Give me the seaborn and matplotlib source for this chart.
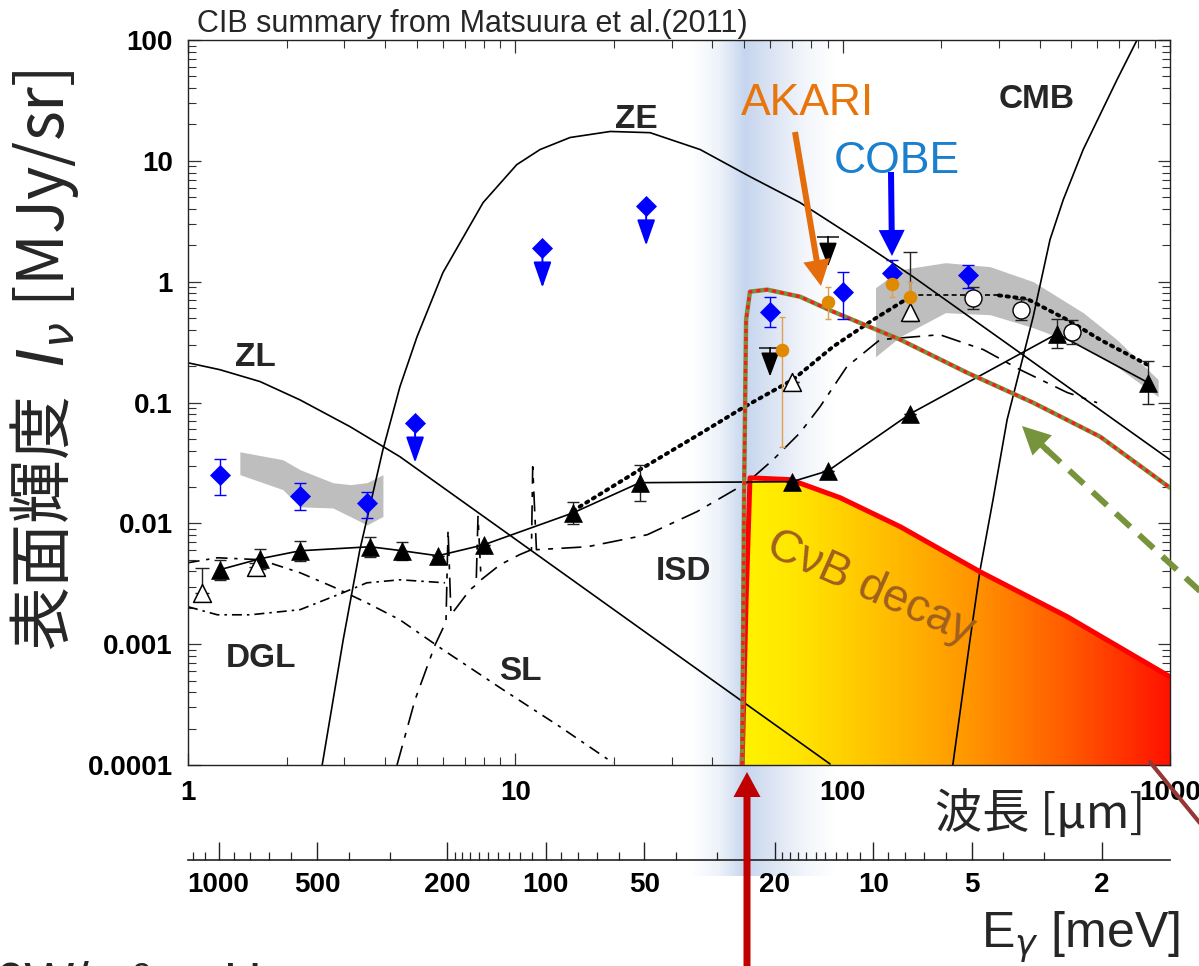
"""CIB summary (Matsuura et al. 2011) redrawn with seaborn / matplotlib."""
import numpy as np
import matplotlib
matplotlib.use("Agg")
import matplotlib.pyplot as plt
import seaborn as sns
from matplotlib.colors import LinearSegmentedColormap
from matplotlib.lines import Line2D
from matplotlib.patches import FancyArrow, Polygon
from matplotlib.ticker import FixedLocator, LogLocator, NullFormatter

W, H = 1199, 966

# ---------------- data: wavelength [um], intensity [MJy/sr] ----------------
zl_lam = [1.0, 1.25, 1.66, 2.2, 3.13, 4.44, 10.0, 30.0, 91.5]
zl_I = [0.213, 0.187, 0.149, 0.105, 0.063, 0.0356, 0.0074, 0.00088, 0.000102]

ze_lam = [2.57, 2.98, 3.35, 3.94, 4.44, 5.01, 6.01, 7.97, 10.1, 11.9, 14.7, 19.5,
          25.8, 36.7, 52.1, 74.1, 111, 164, 348, 1000]
ze_I = [1.0e-4, 1.09e-3, 6.05e-3, 0.0407, 0.135, 0.351, 1.19, 4.51, 9.3, 12.4, 15.6,
        17.5, 17.1, 12.4, 7.4, 4.51, 2.23, 1.10, 0.258, 0.0336]

cmb_lam = [217, 245, 263, 288, 318, 382, 430, 472, 543, 689, 793]
cmb_I = [1e-4, 1.09e-3, 4.13e-3, 0.0157, 0.0721, 0.513, 2.23, 4.77, 12.4, 47.0, 100]

sl_lam = [1.0, 1.23, 1.66, 2.2, 2.77, 3.52, 4.44, 6.01, 8.98, 13.7, 19.9]
sl_I = [4.72e-3, 5.19e-3, 5.0e-3, 3.9e-3, 2.99e-3, 2.2e-3, 1.59e-3, 9.0e-4, 4.36e-4,
        2.07e-4, 1.04e-4]

dgl_lam = [1.0, 1.23, 1.55, 2.2, 2.98, 3.52, 4.44, 6.1]
dgl_I = [2.04e-3, 1.75e-3, 1.75e-3, 1.93e-3, 2.67e-3, 3.22e-3, 3.41e-3, 3.22e-3]

isd_lam = [4.35, 4.94, 5.69, 6.14, 6.23, 6.36, 7.27, 7.59, 7.69, 7.86, 8.98, 10.3, 11.2,
           11.3, 11.6, 16.6, 25.3, 35.9, 51.0, 61.3, 74.1, 85.3, 103, 130, 198, 269,
           348, 485, 599]
isd_I = [1e-4, 3.47e-4, 9.9e-4, 1.53e-3, 8.85e-3, 1.75e-3, 2.82e-3, 3.1e-3, 0.0114,
         3.41e-3, 4.54e-3, 5.5e-3, 6.05e-3, 0.0294, 6.05e-3, 6.4e-3, 8.05e-3, 0.0125,
         0.0217, 0.0336, 0.0562, 0.0923, 0.198, 0.331, 0.364, 0.274, 0.187, 0.121, 0.0996]

tri_lam = [1.25, 1.66, 2.2, 3.6, 4.51, 5.8, 8.02, 15.0, 24.0, 70.0, 90.2, 161, 452, 857]
tri_I = [4.13e-3, 5.09e-3, 5.93e-3, 6.4e-3, 5.93e-3, 5.39e-3, 6.65e-3, 0.0122, 0.0217,
         0.0221, 0.0272, 0.0808, 0.371, 0.146]
tri_err = [0.083, 0.083, 0.083, 0.083, 0.075, 0, 0, 0.09, 0.15, 0, 0, 0, 0.12, 0.18]

otri_lam = [1.10, 1.61, 70.0, 161]
otri_I = [2.67e-3, 4.37e-3, 0.149, 0.565]
otri_up = [0.2, 0.03, 0, 0.49]
otri_lo = [0, 0, 0, 0.08]

ocirc_lam = [250, 351, 502]
ocirc_I = [0.737, 0.587, 0.386]
ocirc_err = [0.09, 0.09, 0.1]

dia_lam = [1.25, 2.2, 3.52, 60.0, 100, 141, 242]
dia_I = [0.0253, 0.0169, 0.0148, 0.565, 0.826, 1.19, 1.14]
dia_up = [0.13, 0.11, 0.09, 0.12, 0.16, 0.1, 0.08]
dia_lo = [0.17, 0.12, 0.13, 0.13, 0.23, 0.1, 0.11]
dia_ul_lam = [4.94, 12.1, 25.1]
dia_ul_I = [0.068, 1.91, 4.26]

akari_lam = [65.3, 90.2, 141, 161]
akari_I = [0.274, 0.683, 0.963, 0.751]
akari_up = [0.27, 0.12, 0.09, 0.12]
akari_lo = [0.81, 0.14, 0.11, 0.18]

ul_lam = [60.0, 90.2]
ul_top = [0.284, 2.36]
ul_tip = [0.164, 1.33]

nir_lam = [1.44, 1.95, 2.2, 2.77, 3.13, 3.52, 3.94]
nir_hi = [0.0391, 0.0336, 0.0278, 0.0217, 0.0209, 0.0217, 0.0253]
nir_lo = [0.0253, 0.0190, 0.0137, 0.0134, 0.0114, 0.0097, 0.0114]

fir_lam = [126, 150, 206, 282, 382, 543, 689, 920]
fir_hi = [0.892, 1.257, 1.436, 1.331, 1.0, 0.554, 0.331, 0.1545]
fir_lo = [0.239, 0.351, 0.554, 0.533, 0.416, 0.290, 0.198, 0.1117]

dot_lam = [15.0, 24.0, 36.7, 49.6, 70.5, 93.5, 124, 161]
dot_I = [0.0127, 0.0278, 0.0552, 0.0906, 0.1545, 0.29, 0.4845, 0.751]
flat_lam = [161, 300]
flat_I = [0.77, 0.77]
desc_lam = [300, 366, 485, 612, 851]
desc_I = [0.77, 0.72, 0.4845, 0.331, 0.206]

cvb_lam = [49.3, 50.7, 52.1, 69.1, 98.2, 150, 263, 485, 1000]
cvb_I = [1e-4, 2.33e-3, 0.0238, 0.023, 0.0163, 9.37e-3, 3.97e-3, 1.69e-3, 5.37e-4]

nu_lam = [49.3, 49.96, 50.7, 52.1, 58.8, 74.1, 93.5, 150, 240, 382, 612, 1000]
nu_I = [1e-4, 0.0157, 0.4845, 0.826, 0.859, 0.751, 0.565, 0.331, 0.1765, 0.0996,
        0.0521, 0.0197]

x_ticks = [1, 10, 100, 1000]
x_labels = ["1", "10", "100", "1000"]
y_ticks = [1e-4, 1e-3, 1e-2, 0.1, 1, 10, 100]
y_labels = ["0.0001", "0.001", "0.01", "0.1", "1", "10", "100"]
e_ticks = [1000, 500, 200, 100, 50, 20, 10, 5, 2]
e_labels = ["1000", "500", "200", "100", "50", "20", "10", "5", "2"]
e_minor = ([1100, 1200, 900, 800, 700, 600, 400, 300]
           + list(range(110, 200, 10)) + [90, 80, 70, 60, 40, 30]
           + list(range(11, 20)) + [9, 8, 7, 6, 4, 3])

# ---------------- style ----------------
sns.set_theme(style="ticks")
plt.rcParams["font.family"] = ["Liberation Sans", "Noto Sans CJK JP", "DejaVu Sans"]
plt.rcParams["mathtext.fontset"] = "dejavusans"
CJK = ["Noto Sans CJK JP", "DejaVu Sans"]

fig = plt.figure(figsize=(W / 100, H / 100), dpi=100)
fig.patch.set_facecolor("white")


def fx(x):
    return x / W


def fy(y):
    return 1 - y / H


# light-blue vertical band (behind everything)
band = fig.add_axes([fx(690), fy(876), (835 - 690) / W, (876 - 41) / H], zorder=0)
band_cmap = LinearSegmentedColormap.from_list(
    "band", [(0, "#ffffff"), (0.2, "#eef3fa"), (0.38, "#c6d5ee"), (0.55, "#dae3f3"),
             (0.8, "#f3f6fb"), (1, "#ffffff")])
band.imshow(np.linspace(0, 1, 256)[None, :], aspect="auto", cmap=band_cmap,
            extent=[0, 1, 0, 1])
band.axis("off")

ax = fig.add_axes([fx(188), fy(765), (1170 - 188) / W, (765 - 40) / H], zorder=1)
ax.set_facecolor("none")
ax.set_xscale("log")
ax.set_yscale("log")


def curve(lam, I, **kw):
    kw.setdefault("color", "black")
    kw.setdefault("lw", 1.2)
    sns.lineplot(x=lam, y=I, sort=False, estimator=None, ax=ax, **kw)


def dex_err(I, lo, hi):
    I = np.asarray(I)
    return [I - I * 10 ** -np.asarray(lo), I * 10 ** np.asarray(hi) - I]


# shaded bands
ax.fill_between(nir_lam, nir_lo, nir_hi, color="#bebebe", lw=0, zorder=1)
ax.fill_between(fir_lam, fir_lo, fir_hi, color="#bebebe", lw=0, zorder=1)

# CvB decay gradient region
cvb_cmap = LinearSegmentedColormap.from_list(
    "cvb", [(0, "#fff200"), (0.13, "#ffe400"), (0.32, "#ffc000"), (0.53, "#ff9600"),
            (0.75, "#ff5e00"), (1, "#ff1200")])
gx = np.logspace(np.log10(cvb_lam[0]), 3, 300)
mesh = ax.pcolormesh(gx, [1e-4, 0.03], np.linspace(0, 1, 299)[None, :], cmap=cvb_cmap,
                     shading="flat", zorder=1.5)
clip = Polygon(np.column_stack([cvb_lam + [1000], cvb_I + [1e-4]]), closed=True,
               transform=ax.transData)
mesh.set_clip_path(clip)
curve(cvb_lam, cvb_I, color="#ff0000", lw=3.6, zorder=2.2)

# model curves
curve(zl_lam, zl_I, zorder=2)
curve(ze_lam, ze_I, zorder=2)
curve(cmb_lam, cmb_I, zorder=2)
curve(sl_lam, sl_I, linestyle=(0, (7, 4, 2, 4)), zorder=2)
curve(dgl_lam, dgl_I, linestyle=(0, (6, 3, 1.5, 3)), zorder=2)
curve(isd_lam, isd_I, linestyle=(0, (12, 5, 3, 5)), zorder=2)

# dotted model line
curve(dot_lam, dot_I, lw=2.8, linestyle=(0, (0.6, 1.4)), dash_capstyle="round", zorder=2)
curve(flat_lam, flat_I, lw=1.2, linestyle=(0, (3, 2)), zorder=2)
curve(desc_lam, desc_I, lw=2.8, linestyle=(0, (0.6, 1.4)), dash_capstyle="round", zorder=2)

# red / green dotted curve
curve(nu_lam, nu_I, color="#76923c", lw=3.2, zorder=3)
curve(nu_lam, nu_I, color="#ff1a1a", lw=2.4, linestyle=(0, (1.2, 1.2)), zorder=3.1)

# black triangles with connecting line
curve(tri_lam, tri_I, lw=1.2, zorder=2.5)
ax.errorbar(tri_lam, tri_I, yerr=dex_err(tri_I, tri_err, tri_err), fmt="none",
            ecolor="#222222", elinewidth=1, capsize=4, capthick=1, zorder=3.5)
sns.scatterplot(x=tri_lam, y=tri_I, marker="^", s=165, color="black", edgecolor="black",
                linewidth=0.5, ax=ax, zorder=4)

# open triangles
ax.errorbar(otri_lam, otri_I, yerr=dex_err(otri_I, otri_lo, otri_up), fmt="none",
            ecolor="#222222", elinewidth=1, capsize=5, capthick=1, zorder=3.5)
sns.scatterplot(x=otri_lam, y=otri_I, marker="^", s=165, color="white", edgecolor="black",
                linewidth=1.1, ax=ax, zorder=4)

# open circles
ax.errorbar(ocirc_lam, ocirc_I, yerr=dex_err(ocirc_I, ocirc_err, ocirc_err), fmt="none",
            ecolor="#222222", elinewidth=1, capsize=4, capthick=1, zorder=3.5)
sns.scatterplot(x=ocirc_lam, y=ocirc_I, marker="o", s=150, color="white", edgecolor="black",
                linewidth=1.0, ax=ax, zorder=4)

# blue diamonds
ax.errorbar(dia_lam, dia_I, yerr=dex_err(dia_I, dia_lo, dia_up), fmt="none",
            ecolor="#0000ff", elinewidth=1, capsize=4, capthick=1, zorder=3.5)
sns.scatterplot(x=dia_lam, y=dia_I, marker="D", s=115, color="#0000ff", edgecolor="#0000ff",
                linewidth=0, ax=ax, zorder=4)
sns.scatterplot(x=dia_ul_lam, y=dia_ul_I, marker="D", s=115, color="#0000ff",
                edgecolor="#0000ff", linewidth=0, ax=ax, zorder=4)
for l, v in zip(dia_ul_lam, dia_ul_I):
    ax.annotate("", xy=(l, v * 10 ** -0.33), xytext=(l, v),
                arrowprops=dict(arrowstyle="-|>,head_length=0.8,head_width=0.28",
                                color="#0000ff", lw=1.4, shrinkA=0, shrinkB=0,
                                mutation_scale=20), zorder=3.8)

# black upper limits
sns.scatterplot(x=ul_lam, y=ul_top, marker="_", s=260, color="#222222", linewidth=1.2,
                ax=ax, zorder=3.6)
for l, t, b in zip(ul_lam, ul_top, ul_tip):
    ax.annotate("", xy=(l, b), xytext=(l, t),
                arrowprops=dict(arrowstyle="-|>,head_length=0.75,head_width=0.28",
                                color="black", lw=1.2, shrinkA=0, shrinkB=0,
                                mutation_scale=20), zorder=3.8)

# AKARI orange points
ax.errorbar(akari_lam, akari_I, yerr=dex_err(akari_I, akari_lo, akari_up), fmt="none",
            ecolor="#e0a050", elinewidth=1, capsize=2.5, capthick=1, zorder=3.7)
sns.scatterplot(x=akari_lam, y=akari_I, marker="o", s=95, color="#df8a00",
                edgecolor="#df8a00", linewidth=0, ax=ax, zorder=4.2)

# ---------------- axes ----------------
ax.set_xlim(1, 1000)
ax.set_ylim(1e-4, 100)
ax.set_xlabel("")
ax.set_ylabel("")
ax.set_xticks(x_ticks)
ax.set_xticklabels(x_labels)
ax.set_yticks(y_ticks)
ax.set_yticklabels(y_labels)
ax.xaxis.set_minor_locator(LogLocator(base=10, subs=np.arange(2, 10)))
ax.yaxis.set_minor_locator(LogLocator(base=10, subs=np.arange(2, 10), numticks=20))
ax.xaxis.set_minor_formatter(NullFormatter())
ax.yaxis.set_minor_formatter(NullFormatter())
ax.tick_params(which="both", direction="in", top=True, right=True, color="#333333",
               labelcolor="black")
ax.tick_params(which="major", length=9, width=0.9, labelsize=20)
ax.tick_params(axis="x", which="major", pad=11)
ax.tick_params(axis="y", which="major", pad=11)
ax.tick_params(which="minor", length=5.5, width=0.8)
for s in ax.spines.values():
    s.set_linewidth(1.0)
    s.set_color("#222222")
    s.set_visible(True)
for lab in ax.get_xticklabels() + ax.get_yticklabels():
    lab.set_fontweight("bold")


def to_energy(x):
    x = np.asarray(x, dtype=float)
    with np.errstate(divide="ignore"):
        return 1239.84 / x


sec = ax.secondary_xaxis(-0.131, functions=(to_energy, to_energy))
sec.set_xticks(e_ticks)
sec.set_xticklabels(e_labels)
sec.xaxis.set_minor_locator(FixedLocator(e_minor))
sec.xaxis.set_minor_formatter(NullFormatter())
sec.tick_params(which="both", direction="in", color="#222222", labelcolor="black")
sec.tick_params(which="major", length=13, width=1.0, labelsize=20, pad=9)
sec.tick_params(which="minor", length=6, width=0.9)
sec.spines["bottom"].set_linewidth(1.2)
sec.spines["bottom"].set_color("#222222")
for lab in sec.get_xticklabels():
    lab.set_fontweight("bold")

# ---------------- text ----------------
fig.text(fx(197), fy(32), "CIB summary from Matsuura et al.(2011)", fontsize=22,
         ha="left", va="baseline")
for txt, x, y in [("ZL", 255, 366), ("ZE", 636, 128), ("CMB", 1037, 108),
                  ("ISD", 683, 580), ("DGL", 261, 667), ("SL", 520, 680)]:
    fig.text(fx(x), fy(y), txt, fontsize=24, fontweight="bold", ha="center", va="baseline")
fig.text(fx(808), fy(115), "AKARI", fontsize=32, color="#e8740c", ha="center", va="baseline")
fig.text(fx(897), fy(173), "COBE", fontsize=32, color="#1a7fcc", ha="center", va="baseline")
fig.text(fx(870), fy(588), "C\u03bdB decay", fontsize=33, color="#a0601e", rotation=-24,
         ha="center", va="center", rotation_mode="anchor")
fig.text(fx(45), fy(360), "表面輝度  $I_\\nu$ [MJy/sr]", rotation=90, fontsize=46,
         family=CJK, ha="center", va="center")
fig.text(fx(1145), fy(815), "波長 [μm]", fontsize=34, family=CJK, ha="right", va="center")
fig.text(fx(1180), fy(948), "E$_\\gamma$ [meV]", fontsize=36, ha="right", va="baseline")
# caption that runs off the bottom edge in the original picture
fig.text(fx(-5), fy(1000), "6W/m² sr Hz", fontsize=38, ha="left", va="baseline")


# ---------------- big annotation arrows (pixel geometry) ----------------
def px_arrow(x0, y0, x1, y1, width, head_w, head_l, color):
    a = FancyArrow(x0 / 100, (H - y0) / 100, (x1 - x0) / 100, -(y1 - y0) / 100,
                   width=width / 100, head_width=head_w / 100, head_length=head_l / 100,
                   length_includes_head=True, color=color, lw=0,
                   transform=fig.dpi_scale_trans, zorder=10)
    fig.add_artist(a)


def px_line(x0, y0, x1, y1, **kw):
    fig.add_artist(Line2D([x0 / 100, x1 / 100], [(H - y0) / 100, (H - y1) / 100],
                          transform=fig.dpi_scale_trans, zorder=10, **kw))


px_arrow(747, 980, 747, 772, 7, 27, 25, "#c00000")
px_arrow(795, 132, 821, 286, 6, 27, 26, "#e46c0a")
px_arrow(891, 172, 892, 256, 6, 26, 26, "#0000ff")
px_line(1046, 449, 1240, 628, color="#77933c", lw=4.3, linestyle=(0, (3.3, 2)))
px_arrow(1048, 451, 1022, 426, 6, 28, 28, "#77933c")
px_line(1150, 762, 1240, 872, color="#953735", lw=3.0)

fig.savefig("out.png", dpi=100)
